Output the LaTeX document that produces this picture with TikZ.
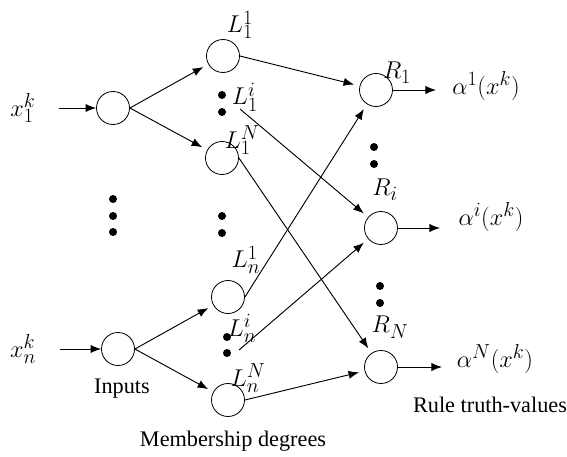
\documentclass[tikz,border=0pt]{standalone}
\usepackage{fontspec}
\setmainfont{Liberation Serif}
\DeclareMathSizes{19}{20.74}{17.28}{14.4}
\usetikzlibrary{arrows.meta, positioning}

\begin{document}
\begin{tikzpicture}[
  x=0.03cm, y=-0.03cm,
  font=\fontsize{19}{22}\selectfont,
  unit/.style={draw, circle, inner sep=0pt, minimum size=0.99cm, line width=0.7pt},
  dotmark/.style={fill, circle, inner sep=0pt, minimum size=0.24cm},
  arr/.style={-{Latex[length=9pt,width=7pt]}, line width=0.8pt},
  into/.style={arr, shorten >=0.17cm},
  lbl/.style={inner sep=0pt}
]
\useasboundingbox (0,0) rectangle (567,457);

% layers
\node[unit] (in1) at (113,108) {};
\node[unit] (inn) at (118,349) {};
\node[unit] (L11) at (223,56)  {};
\node[unit] (L1N) at (222,158) {};
\node[unit] (Ln1) at (228,297) {};
\node[unit] (LnN) at (228,400) {};
\node[unit] (R1)  at (376,90)  {};
\node[unit] (Ri)  at (381,228) {};
\node[unit] (RN)  at (381,367) {};

% labels
\node[lbl] (x1)   at (23,108)  {$x_1^k$};
\node[lbl] (xn)   at (23,349)  {$x_n^k$};
\node[lbl] (lL11) at (240,25)  {$L_1^1$};
\node[lbl] (lL1i) at (245,97)  {$L_1^i$};
\node[lbl] (lL1N) at (242,140) {$L_1^N$};
\node[lbl] (lLn1) at (246,260) {$L_n^1$};
\node[lbl] (lLni) at (242,328) {$L_n^i$};
\node[lbl] (lLnN) at (248,378) {$L_n^N$};
\node[lbl] (lR1)  at (397,73)  {$R_1$};
\node[lbl] (lRi)  at (385,190) {$R_i$};
\node[lbl] (lRN)  at (390,327) {$R_N$};
\node[lbl] (a1)   at (486,86)  {$\alpha^1(x^k)$};
\node[lbl] (ai)   at (491,217) {$\alpha^i(x^k)$};
\node[lbl] (aN)   at (495,359) {$\alpha^N(x^k)$};

\node (inputs) at (122,389) {Inputs};
\node (member) at (233,441) {Membership degrees};
\node (rule)   at (490,405) {Rule truth-values};

% dots
\foreach \p [count=\k] in {(113,199),(113,216),(113,232),(222,95),(222,112),
    (222,216),(222,233),(227,337),(227,353),(374,147),(374,164),(380,286),(380,303)}
  \node[dotmark] (dot\k) at \p {};

\coordinate (x1in) at (59,108);
\coordinate (xnin) at (60,349);
\coordinate (l1i)  at (240,109);
\coordinate (lni)  at (239,350);
\coordinate (out1) at (436,90);
\coordinate (outi) at (440,228);
\coordinate (outN) at (442,367);

\draw[arr] (x1in) -- (in1);
\draw[arr] (xnin) -- (inn);
\draw[into] (in1.east) -- (L11);
\draw[into] (in1.east) -- (L1N);
\draw[into] (inn.east) -- (Ln1);
\draw[into] (inn.east) -- (LnN);

\draw[into] (L11.east) -- (R1);
\draw[into] (l1i) -- (Ri);
\draw[into] (L1N.east) -- (RN);
\draw[into] (Ln1.east) -- (R1);
\draw[into] (lni) -- (Ri);
\draw[into] (LnN.east) -- (RN);

\draw[arr] (R1) -- (out1);
\draw[arr] (Ri) -- (outi);
\draw[arr] (RN) -- (outN);
\end{tikzpicture}
\end{document}
